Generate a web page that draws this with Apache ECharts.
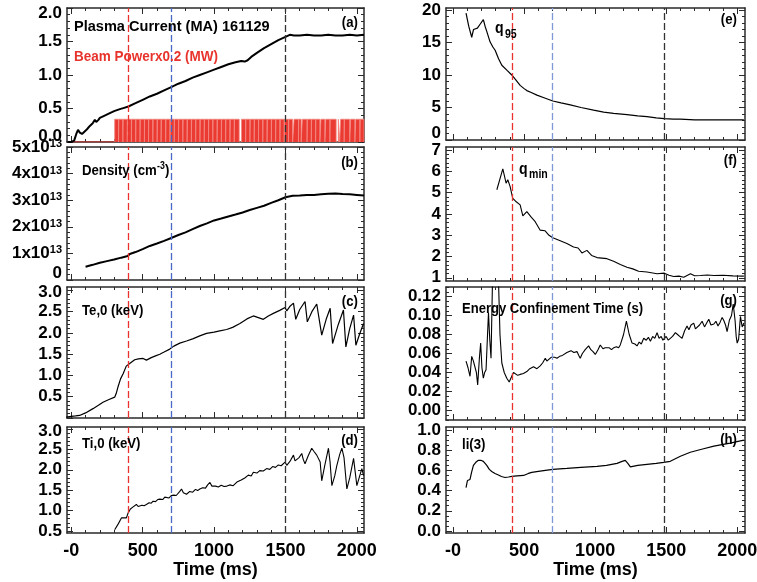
<!DOCTYPE html>
<html><head><meta charset="utf-8">
<script src="https://cdn.jsdelivr.net/npm/echarts@6/dist/echarts.min.js"></script>
<style>html,body{margin:0;padding:0;background:#fff}#c{width:757px;height:582px}</style>
</head><body><div id="c"></div>
<script>
// ---------------- DATA ----------------
const xTickLabels = [0, 500, 1000, 1500, 2000];          // Time (ms)
const xRangeLeft = [-30, 2050];
const xRangeRight = [-50, 2055];
const markersLeft = [400, 700, 1500];                    // red, blue, black dashed (ms)
const markersRight = [413, 700, 1485];

const yTicksA = [0, 0.5, 1.0, 1.5, 2.0];
const yTicksB = [0, 1, 2, 3, 4, 5];                      // x 10^13 cm^-3
const yTicksC = [0, 0.5, 1.0, 1.5, 2.0, 2.5, 3.0];
const yTicksD = [0.5, 1.0, 1.5, 2.0, 2.5, 3.0];
const yTicksE = [0, 5, 10, 15, 20];
const yTicksF = [1, 2, 3, 4, 5, 6, 7];
const yTicksG = [0, 0.02, 0.04, 0.06, 0.08, 0.10, 0.12];
const yTicksH = [0, 0.2, 0.4, 0.6, 0.8, 1.0];

const plasmaCurrent = [[-25,0],[0,0],[20,0.02],[35,0.12],[47,0.18],[60,0.14],[75,0.12],[90,0.15],[110,0.19],[130,0.24],[150,0.28],[165,0.33],[175,0.30],[190,0.33],[200,0.36],[230,0.39],[270,0.43],[300,0.46],[340,0.49],[370,0.51],[400,0.53],[450,0.58],[500,0.63],[550,0.68],[600,0.72],[650,0.77],[700,0.82],[750,0.87],[800,0.91],[850,0.96],[900,1.00],[950,1.04],[1000,1.08],[1050,1.12],[1100,1.16],[1150,1.19],[1190,1.21],[1215,1.20],[1235,1.22],[1260,1.27],[1300,1.33],[1350,1.40],[1400,1.46],[1450,1.52],[1500,1.57],[1530,1.60],[1560,1.59],[1600,1.59],[1650,1.60],[1700,1.59],[1750,1.59],[1800,1.60],[1850,1.59],[1900,1.59],[1950,1.60],[2000,1.59],[2050,1.60]];
const beamLevel = 0.34;   // beam power x0.2 (MW)
const beamStart = -25;
const beamOn = [[304,331],[333,361],[363,392],[394,421],[423,451],[453,481],[483,512],[514,541],[543,571],[573,601],[603,629],[631,661],[663,691],[693,721],[723,751],[753,781],[783,811],[813,841],[843,871],[873,901],[903,931],[933,961],[963,991],[993,1021],[1023,1051],[1053,1081],[1083,1111],[1113,1141],[1143,1176],[1192,1221],[1223,1251],[1253,1281],[1283,1311],[1313,1341],[1343,1371],[1373,1401],[1403,1431],[1433,1461],[1463,1491],[1493,1521],[1523,1550],[1560,1591],[1593,1610],[1618,1651],[1653,1681],[1683,1711],[1713,1741],[1748,1776],[1782,1811],[1813,1855],[1870,1880],[1886,1911],[1913,1950],[1956,1986],[1992,2021],[2023,2050]];
const density = [[100,0.50],[150,0.57],[200,0.65],[250,0.71],[300,0.77],[350,0.84],[395,0.90],[410,0.98],[450,1.05],[500,1.16],[550,1.28],[600,1.37],[650,1.47],[700,1.58],[750,1.69],[800,1.79],[850,1.91],[900,2.03],[950,2.13],[1000,2.24],[1050,2.31],[1100,2.39],[1150,2.46],[1200,2.54],[1250,2.63],[1300,2.71],[1350,2.79],[1400,2.90],[1450,3.00],[1500,3.11],[1550,3.17],[1600,3.18],[1650,3.20],[1700,3.20],[1750,3.22],[1800,3.24],[1850,3.25],[1900,3.23],[1950,3.22],[2000,3.20],[2050,3.18]];
const te0 = [[-35,0.02],[0,0.04],[30,0.05],[58,0.06],[100,0.12],[152,0.22],[190,0.30],[222,0.37],[260,0.43],[304,0.49],[315,0.58],[327,0.73],[345,0.92],[363,1.04],[385,1.22],[409,1.28],[444,1.37],[470,1.39],[503,1.40],[515,1.36],[526,1.36],[560,1.42],[590,1.46],[620,1.50],[650,1.55],[690,1.62],[718,1.69],[760,1.76],[807,1.81],[850,1.86],[900,1.93],[947,1.99],[1000,2.02],[1040,2.05],[1088,2.08],[1130,2.13],[1181,2.22],[1230,2.33],[1275,2.40],[1310,2.36],[1345,2.32],[1380,2.40],[1415,2.46],[1460,2.53],[1497,2.60],[1509,2.52],[1530,2.62],[1556,2.70],[1572,2.32],[1600,2.55],[1637,2.74],[1653,2.26],[1685,2.50],[1719,2.68],[1754,1.95],[1785,2.32],[1813,2.58],[1830,1.75],[1870,2.20],[1906,2.54],[1923,1.67],[1950,2.10],[1977,2.42],[1993,1.71],[2020,1.98],[2047,2.22]];
const ti0 = [[304,0.53],[330,0.68],[351,0.82],[370,0.82],[386,0.82],[398,0.94],[414,1.04],[433,1.09],[445,1.13],[456,1.15],[468,1.10],[480,1.09],[495,1.13],[510,1.12],[526,1.15],[545,1.19],[560,1.18],[573,1.23],[590,1.22],[605,1.27],[620,1.28],[640,1.27],[655,1.33],[667,1.34],[685,1.31],[700,1.37],[718,1.38],[735,1.37],[749,1.40],[760,1.47],[772,1.53],[785,1.44],[807,1.40],[830,1.47],[850,1.45],[870,1.52],[885,1.49],[900,1.53],[920,1.56],[940,1.55],[955,1.63],[971,1.69],[985,1.60],[994,1.57],[1010,1.60],[1030,1.58],[1050,1.62],[1070,1.59],[1090,1.60],[1110,1.63],[1134,1.61],[1160,1.70],[1190,1.75],[1215,1.80],[1240,1.87],[1260,1.85],[1275,1.94],[1300,1.92],[1320,1.98],[1345,1.97],[1368,2.03],[1390,2.01],[1410,2.08],[1430,2.06],[1450,2.12],[1470,2.10],[1497,2.19],[1509,2.11],[1530,2.20],[1556,2.36],[1567,2.22],[1579,2.19],[1595,2.30],[1614,2.40],[1625,2.25],[1637,2.15],[1660,2.35],[1684,2.53],[1700,2.45],[1719,2.36],[1743,2.19],[1754,1.73],[1775,2.10],[1801,2.53],[1812,2.20],[1825,1.61],[1845,1.85],[1860,2.11],[1880,2.38],[1895,2.53],[1910,2.30],[1930,1.53],[1950,1.80],[1977,2.28],[1990,1.90],[2000,1.61],[2020,1.85],[2035,2.03],[2047,1.86]];
const q95 = [[91,19.5],[110,17.5],[131,15.8],[144,17.0],[154,16.7],[171,17.2],[190,17.8],[213,18.5],[225,17.5],[237,16.7],[260,15.1],[280,14.3],[296,13.8],[320,12.5],[343,11.5],[380,10.7],[413,10.0],[440,9.3],[472,8.4],[500,7.9],[519,7.6],[550,7.3],[590,6.9],[640,6.5],[702,6.0],[760,5.7],[825,5.4],[900,5.0],[989,4.6],[1060,4.3],[1130,4.1],[1224,3.9],[1300,3.7],[1365,3.6],[1430,3.4],[1487,3.3],[1550,3.2],[1600,3.2],[1700,3.1],[1836,3.1],[1950,3.1],[2047,3.1]];
const qmin = [[308,5.14],[350,6.12],[373,5.45],[385,5.61],[401,5.30],[420,4.74],[440,4.60],[472,4.43],[491,3.91],[519,4.11],[550,3.85],[578,3.64],[613,3.24],[648,3.21],[675,3.00],[702,2.88],[750,2.75],[801,2.61],[848,2.45],[880,2.40],[907,2.17],[942,2.29],[975,2.05],[1013,1.95],[1083,1.90],[1130,1.78],[1177,1.63],[1224,1.50],[1265,1.42],[1306,1.31],[1365,1.27],[1436,1.19],[1487,1.22],[1520,1.12],[1553,1.06],[1590,1.08],[1624,1.03],[1671,1.19],[1700,1.10],[1742,1.11],[1790,1.13],[1836,1.11],[1900,1.12],[1970,1.09],[2047,1.08]];
const tauE = [[91,0.052],[105,0.045],[119,0.036],[131,0.057],[143,0.052],[155,0.050],[164,0.040],[173,0.027],[185,0.055],[194,0.071],[203,0.045],[213,0.034],[222,0.040],[232,0.043],[241,0.075],[249,0.103],[258,0.075],[267,0.055],[279,0.150],[290,0.170],[305,0.160],[319,0.140],[330,0.080],[343,0.050],[360,0.040],[378,0.034],[395,0.030],[413,0.036],[425,0.040],[437,0.039],[455,0.037],[472,0.038],[495,0.039],[519,0.041],[540,0.044],[566,0.046],[590,0.044],[613,0.047],[630,0.050],[649,0.055],[660,0.052],[672,0.052],[690,0.056],[703,0.054],[715,0.056],[731,0.055],[750,0.057],[770,0.058],[801,0.061],[830,0.063],[850,0.061],[872,0.062],[885,0.058],[895,0.055],[910,0.060],[930,0.064],[954,0.068],[970,0.064],[985,0.062],[1001,0.059],[1020,0.064],[1036,0.069],[1055,0.065],[1070,0.066],[1083,0.064],[1100,0.066],[1115,0.064],[1130,0.066],[1150,0.067],[1165,0.066],[1177,0.069],[1200,0.080],[1220,0.094],[1240,0.080],[1260,0.071],[1280,0.070],[1295,0.068],[1310,0.072],[1325,0.070],[1342,0.076],[1360,0.074],[1375,0.077],[1389,0.073],[1405,0.078],[1420,0.076],[1436,0.082],[1450,0.076],[1465,0.078],[1477,0.074],[1487,0.073],[1500,0.078],[1515,0.074],[1529,0.075],[1545,0.078],[1565,0.082],[1580,0.080],[1595,0.078],[1612,0.076],[1630,0.084],[1647,0.089],[1660,0.085],[1675,0.090],[1694,0.092],[1706,0.086],[1718,0.085],[1735,0.090],[1753,0.094],[1770,0.088],[1785,0.092],[1800,0.096],[1815,0.090],[1836,0.091],[1850,0.094],[1865,0.089],[1880,0.093],[1894,0.098],[1905,0.095],[1918,0.090],[1929,0.083],[1945,0.095],[1960,0.100],[1972,0.112],[1985,0.095],[1993,0.078],[2000,0.071],[2010,0.075],[2023,0.099],[2035,0.088],[2047,0.092]];
const li3 = [[91,0.43],[101,0.50],[110,0.50],[119,0.51],[130,0.58],[143,0.65],[160,0.68],[178,0.70],[195,0.70],[213,0.69],[225,0.67],[237,0.65],[255,0.61],[272,0.59],[295,0.57],[319,0.555],[340,0.54],[366,0.53],[390,0.535],[413,0.54],[450,0.545],[496,0.55],[530,0.57],[554,0.58],[600,0.59],[650,0.60],[703,0.61],[750,0.615],[801,0.62],[900,0.63],[1013,0.64],[1080,0.65],[1154,0.67],[1190,0.69],[1212,0.70],[1230,0.67],[1248,0.635],[1300,0.65],[1365,0.66],[1430,0.67],[1483,0.68],[1529,0.69],[1600,0.74],[1670,0.78],[1750,0.81],[1836,0.84],[1950,0.87],[2047,0.90]];

// ---------------- LAYOUT & STYLE ----------------
const FONT = "'Liberation Sans', Arial, Helvetica, sans-serif";
const FRAME = '#2a2a2a';
const RED = '#e8332c', BLUE = '#4a68c8', BLUE_R = '#7f98d8', DARK = '#333333';
const layout = [
  {left:67, top:8, width:297, height:134},
  {left:67, top:147, width:297, height:133},
  {left:67, top:287, width:297, height:131},
  {left:67, top:427, width:297, height:106},
  {left:446, top:8, width:299, height:132},
  {left:446, top:147, width:299, height:134},
  {left:446, top:287, width:299, height:133},
  {left:446, top:427, width:299, height:106}
];
const panels = [
  {col:0, row:0, range:[0,2], ticks:yTicksA, minor:5, dec:1, shift:{0:-6, 4:5}, data:plasmaCurrent, lw:2.0},
  {col:0, row:1, range:[0,5], ticks:yTicksB, minor:5, dens:true, shift:{0:-7}, data:density, lw:2.0},
  {col:0, row:2, range:[0,3.08], ticks:yTicksC, minor:5, dec:1, hide:[0], shift:{6:2}, data:te0, lw:1.2},
  {col:0, row:3, range:[0.45,3.05], ticks:yTicksD, minor:5, dec:1, shift:{5:2}, data:ti0, lw:1.1},
  {col:1, row:0, range:[0,20.3], ticks:yTicksE, minor:5, dec:0, shift:{0:-7}, data:q95, lw:1.2},
  {col:1, row:1, range:[0.85,7.15], ticks:yTicksF, minor:5, dec:0, shift:{}, data:qmin, lw:1.1},
  {col:1, row:2, range:[-0.01,0.13], ticks:yTicksG, minor:4, dec:2, shift:{}, data:tauE, lw:1.1},
  {col:1, row:3, range:[-0.02,1.03], ticks:yTicksH, minor:4, dec:1, shift:{}, data:li3, lw:1.2}
];

function minorTicks(major, n, range) {
  const out = [];
  const step = (major[1] - major[0]) / n;
  for (let v = major[0] - step; v >= range[0] - 1e-9; v -= step) out.push(+v.toFixed(6));
  for (let k = 0; k < major.length - 1; k++)
    for (let j = 1; j < n; j++) out.push(+(major[k] + step * j).toFixed(6));
  for (let v = major[major.length-1] + step; v <= range[1] + 1e-9; v += step) out.push(+v.toFixed(6));
  return out;
}
const xMinor = minorTicks(xTickLabels, 5, [0, 2000]);

const grids = [], xAxes = [], yAxes = [], series = [];
const lblStyle = {color:'#000', fontWeight:'bold', fontFamily:FONT};

panels.forEach((p, i) => {
  const L = layout[i];
  grids.push({left:L.left, top:L.top, width:L.width, height:L.height, containLabel:false, outerBoundsMode:'none'});
  const xr = p.col === 0 ? xRangeLeft : xRangeRight;
  const bottomRow = p.row === 3;
  const xb = {gridIndex:i, type:'value', min:xr[0], max:xr[1], splitLine:{show:false}, axisPointer:{show:false}};
  const tickLine = {color:FRAME, width:1};
  ['bottom','top'].forEach(pos => {
    xAxes.push(Object.assign({}, xb, {position:pos,
      axisLine:{show:true, onZero:false, lineStyle:{color:FRAME, width:1.5}},
      axisTick:{show:true, inside:true, length:6, customValues:xTickLabels, lineStyle:tickLine},
      axisLabel:Object.assign({show: bottomRow && pos==='bottom', customValues:xTickLabels, margin:9, fontSize:18, hideOverlap:false,
        formatter: v => (v === 0 ? '-0' : String(v))}, lblStyle),
      name: (bottomRow && pos==='bottom') ? 'Time (ms)' : '', nameLocation:'middle', nameGap:27,
      nameTextStyle:Object.assign({fontSize:18}, lblStyle)}));
    xAxes.push(Object.assign({}, xb, {position:pos, axisLine:{show:false, onZero:false},
      axisTick:{show:true, inside:true, length:3, customValues:xMinor, lineStyle:tickLine},
      axisLabel:{show:false}}));
  });
  const yMinor = minorTicks(p.ticks, p.minor, p.range);
  const shown = p.ticks.filter((v, k) => !(p.hide && p.hide.includes(k)));
  const yb = {gridIndex:i, type:'value', min:p.range[0], max:p.range[1], splitLine:{show:false}, axisPointer:{show:false}};
  const rich = {
    n:{fontSize:17, fontWeight:'bold', fontFamily:FONT, color:'#000'},
    s:{fontSize:11, fontWeight:'bold', fontFamily:FONT, color:'#000', verticalAlign:'top'}
  };
  for (let k = -10; k <= 10; k++) {
    if (k === 0) continue;
    const pad = k > 0 ? [2*k,0,0,0] : [0,0,-2*k,0];
    rich['n' + (k>0?'p':'m') + Math.abs(k)] = Object.assign({}, rich.n, {padding:pad});
  }
  const fmtY = v => {
    const idx = p.ticks.findIndex(t => Math.abs(t - v) < 1e-9);
    const sh = p.shift[idx] || 0;
    const key = sh === 0 ? 'n' : 'n' + (sh>0?'p':'m') + Math.abs(sh);
    if (p.dens) return v === 0 ? `{${key}|0}` : `{${key}|${v}x10}{s|13}`;
    return `{${key}|${v.toFixed(p.dec)}}`;
  };
  ['left','right'].forEach(pos => {
    yAxes.push(Object.assign({}, yb, {position:pos,
      axisLine:{show:true, onZero:false, lineStyle:{color:FRAME, width:1.5}},
      axisTick:{show:true, inside:true, length:6, customValues:p.ticks, lineStyle:tickLine},
      axisLabel:{show: pos==='left', customValues:shown, margin:5, hideOverlap:false, formatter:fmtY, rich:rich}}));
    yAxes.push(Object.assign({}, yb, {position:pos, axisLine:{show:false, onZero:false},
      axisTick:{show:true, inside:true, length:3, customValues:yMinor, lineStyle:tickLine},
      axisLabel:{show:false}}));
  });
  const marks = p.col === 0 ? markersLeft : markersRight;
  const markColors = p.col === 0 ? [RED, BLUE, DARK] : [RED, BLUE_R, DARK];
  if (i === 0) {
    // beam power: off (0) until first pulse, then modulated pulses
    series.push({type:'line', xAxisIndex:0, yAxisIndex:0, data:[[beamStart,0],[beamOn[0][0],0]], symbol:'none', silent:true,
      lineStyle:{color:'#e3261f', width:1.2}, z:2, animation:false});
    const beam = [];
    beamOn.forEach(([s,e]) => { beam.push([s,0],[s,beamLevel],[e,beamLevel],[e,0]); });
    series.push({type:'line', xAxisIndex:0, yAxisIndex:0, data:beam, symbol:'none', silent:true,
      lineStyle:{color:'#f3877f', width:0.8}, areaStyle:{color:'#ea3a32', opacity:1}, z:2, animation:false});
  }
  series.push({type:'line', xAxisIndex:4*i, yAxisIndex:4*i, data:p.data, symbol:'none', silent:true, clip:true,
    lineStyle:{color:'#000', width:p.lw}, z:3, animation:false,
    markLine:{symbol:'none', silent:true, label:{show:false}, animation:false,
      data: marks.map((m, k) => ({xAxis:m, lineStyle:{color:markColors[k], type:[7,3], width:1.3}}))}});
});

function txt(x, y, text, o) {
  o = o || {};
  return {type:'text', x:x, y:y, scaleX:o.sx || 0.88, z:100, silent:true,
    style:{text:text, fill:o.color || '#000', font:`bold ${o.size||15}px ${FONT}`,
      align:o.align||'left', verticalAlign:'middle', textAlign:o.align||'left', textVerticalAlign:'middle'}};
}
const graphics = [
  txt(74, 27, 'Plasma Current (MA) 161129', {sx:0.97}),
  txt(74, 57, 'Beam Powerx0.2 (MW)', {color:RED, sx:0.9}),
  txt(82, 171, 'Density (cm'), txt(157, 166, '-3', {size:10}), txt(165, 171, ')'),
  txt(82, 311, 'Te,0 (keV)'),
  txt(82, 444, 'Ti,0 (keV)'),
  txt(495, 29, 'q', {size:16}), txt(505, 35, '95', {size:12}),
  txt(519, 170, 'q', {size:16}), txt(529, 175, 'min', {size:12}),
  txt(462, 309, 'Energy Confinement Time (s)', {sx:0.87}),
  txt(462, 445, 'li(3)'),
  txt(358, 23, '(a)', {align:'right'}), txt(358, 163, '(b)', {align:'right'}),
  txt(358, 302, '(c)', {align:'right'}), txt(358, 441, '(d)', {align:'right'}),
  txt(737, 20, '(e)', {align:'right'}), txt(737, 161, '(f)', {align:'right'}),
  txt(737, 301, '(g)', {align:'right'}), txt(737, 440, '(h)', {align:'right'})
];

const chart = echarts.init(document.getElementById('c'), null, {renderer:'canvas'});
chart.setOption({animation:false, backgroundColor:'#fff', grid:grids, xAxis:xAxes, yAxis:yAxes, series:series, graphic:graphics});
</script></body></html>
